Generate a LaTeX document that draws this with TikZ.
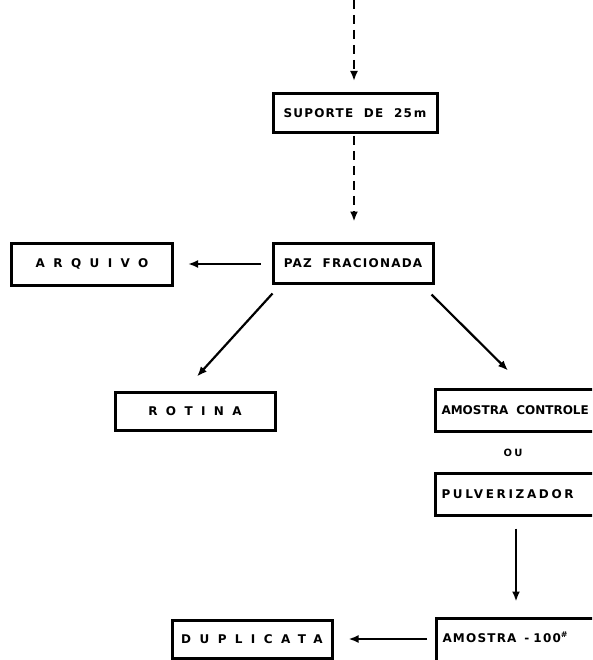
\documentclass[tikz,border=0pt]{standalone}
\usepackage{fontspec}
\setmainfont{DejaVu Sans}
\usetikzlibrary{arrows.meta,calc}
\newfontfamily\boxfont[LetterSpace=10]{DejaVu Sans Bold}
\newfontfamily\tightfont{DejaVu Sans Bold}
\newfontfamily\widefont[LetterSpace=70]{DejaVu Sans Bold}
\newfontfamily\midfont[LetterSpace=22]{DejaVu Sans Bold}
\begin{document}
\begin{tikzpicture}[x=1pt,y=-1pt,
  box/.style={draw, line width=3pt, rectangle, inner sep=0pt, align=center},
  flow/.style={line width=2.2pt, -{Latex[length=10pt,width=8pt]}},
  dflow/.style={flow, dash pattern=on 9pt off 6pt},
  nfont/.style={font=\boxfont\fontsize{12}{14}\selectfont},
  wfont/.style={font=\widefont\fontsize{12}{14}\selectfont},
  rightbox/.style={box, minimum width=180pt, anchor=west, text width=168pt, align=left, inner xsep=6pt}]
\useasboundingbox (0,0) rectangle (592,660);
\clip (0,0) rectangle (592,660);

% boxes
\node[box, nfont, minimum width=164pt, minimum height=39pt] (sup) at (355,113) {SUPORTE~~DE~~25\,m};
\node[box, nfont, minimum width=160pt, minimum height=40pt] (paz) at (353,263) {PAZ~~FRACIONADA};
\node[box, wfont, minimum width=161pt, minimum height=42pt] (arq) at (92,264) {ARQUIVO};
\node[box, wfont, minimum width=160pt, minimum height=38pt] (rot) at (195,411) {ROTINA};
\node[rightbox, font=\tightfont\fontsize{12}{14}\selectfont, minimum height=42pt] (amc) at (434,410) {AMOSTRA~~CONTROLE};
\node[font=\midfont\fontsize{10}{12}\selectfont] (ou) at (513,453) {OU};
\node[rightbox, font=\midfont\fontsize{12}{14}\selectfont, minimum height=42pt] (pul) at (434,494) {PULVERIZADOR};
\node[rightbox, nfont, minimum height=46pt] (am) at (435,641) {\raisebox{8pt}{AMOSTRA~~-~100\textsuperscript{\#}}};
\node[box, wfont, minimum width=160pt, minimum height=38pt] (dup) at (252,639) {DUPLICATA};

% incoming line from above
\coordinate (src) at (354,0);
\draw[dflow, shorten >=11pt] (src) -- (src |- sup.north);
\draw[dflow, shorten <=2pt, shorten >=20pt] (sup.south -| src) -- (paz.north -| src);

% branches from the divided sample
\draw[flow, shorten <=11pt, shorten >=14pt] (paz.west |- arq.east) -- (arq.east);
\draw[flow] ($(paz.south west)+(1,9)$) -- ($(rot.north)+(2,-14)$);
\draw[flow] ($(paz.south east)+(-3,10)$) -- ($(amc.north west)+(74,-17)$);

% lower chain
\coordinate (mid) at (516,0);
\draw[flow, shorten <=12pt, shorten >=15pt] (pul.south -| mid) -- (am.north -| mid);
\draw[flow, shorten <=8pt, shorten >=15pt] (am.west |- dup.east) -- (dup.east);
\end{tikzpicture}
\end{document}
